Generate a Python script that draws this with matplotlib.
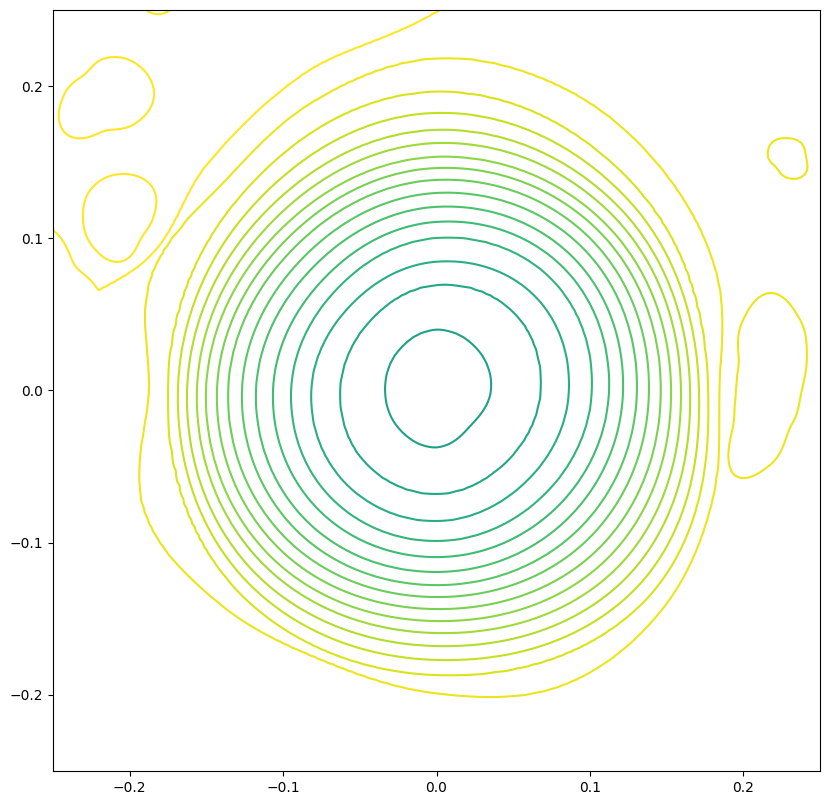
"""
plot.py - contour rings around the origin, viridis line colours.
"""

import numpy as np
import matplotlib
matplotlib.use("Agg")
import matplotlib.pyplot as plt

# ------------------- 1. Ring radii -------------------
# distance from (0, 0) to each ring, data units, inner -> outer (rings 1..14)
# directions: E, NE, N, NW, W, SW, S, SE
ring_e  = [0.0355, 0.0681, 0.0864, 0.1014, 0.1125, 0.1216, 0.1307, 0.1385, 0.1463, 0.1529, 0.1594, 0.1653, 0.1711, 0.1770]
ring_ne = [0.0380, 0.0720, 0.0892, 0.1048, 0.1156, 0.1248, 0.1337, 0.1415, 0.1489, 0.1553, 0.1626, 0.1692, 0.1769, 0.1860]
ring_n  = [0.0400, 0.0695, 0.0846, 0.1003, 0.1108, 0.1207, 0.1298, 0.1384, 0.1462, 0.1534, 0.1626, 0.1711, 0.1823, 0.1961]
ring_nw = [0.0360, 0.0630, 0.0792, 0.0931, 0.1039, 0.1142, 0.1232, 0.1320, 0.1393, 0.1466, 0.1541, 0.1617, 0.1703, 0.1806]
ring_w  = [0.0336, 0.0629, 0.0818, 0.0948, 0.1066, 0.1177, 0.1268, 0.1359, 0.1431, 0.1503, 0.1561, 0.1626, 0.1685, 0.1750]
ring_sw = [0.0350, 0.0665, 0.0851, 0.0985, 0.1098, 0.1205, 0.1295, 0.1381, 0.1460, 0.1536, 0.1605, 0.1684, 0.1761, 0.1846]
ring_s  = [0.0374, 0.0682, 0.0859, 0.0990, 0.1095, 0.1193, 0.1279, 0.1357, 0.1436, 0.1515, 0.1593, 0.1679, 0.1770, 0.1869]
ring_se = [0.0320, 0.0655, 0.0837, 0.0981, 0.1097, 0.1200, 0.1300, 0.1389, 0.1482, 0.1568, 0.1656, 0.1744, 0.1838, 0.1936]

# ring 15 and the outermost level bend more: 16 directions, every 22.5 deg from E
ring_15    = [0.1842, 0.198, 0.207, 0.2155, 0.2184, 0.2065, 0.195, 0.201,
              0.1875, 0.2065, 0.199, 0.192, 0.199, 0.2105, 0.206, 0.194]
outer_line = [0.42, 0.42, 0.44, 0.34, 0.249, 0.2255, 0.211, 0.2115,
              0.31, 0.40, 0.42, 0.42, 0.42, 0.42, 0.44, 0.42]

# small closed loops: centre and radius along evenly spaced directions from E
loop_centers = [(-0.2161, 0.1941), (-0.2063, 0.1134), (-0.1815, 0.2597),
                (-0.2585, 0.0597), (0.2285, 0.1534), (0.2174, 0.0007)]
loop_radii = [
    [0.032, 0.029, 0.0242, 0.019, 0.0268, 0.036, 0.0235, 0.027],
    [0.0216, 0.0293, 0.0288, 0.0268, 0.0242, 0.0258, 0.0288, 0.0192],
    [0.0125, 0.0125, 0.0125, 0.0125, 0.0125, 0.0125, 0.0125, 0.0125],
    [0.039, 0.032, 0.049, 0.039, 0.026, 0.026, 0.026, 0.03],
    [0.0124, 0.0131, 0.0124, 0.0137, 0.0124, 0.0098, 0.0137, 0.0163],
    [0.0209, 0.0248, 0.034, 0.0503, 0.0634, 0.0477, 0.0288, 0.0232,
     0.0222, 0.0248, 0.034, 0.0608, 0.0497, 0.0307, 0.0242, 0.0209],
]
loop_levels = [16, 16, 16, 16, 15, 15]

levels = np.arange(1, 17)


# ------------------- 2. Build the field -------------------
def radius_at(table, theta):
    # periodic Catmull-Rom through evenly spaced directions, starting east
    table = np.asarray(table, dtype=float)
    n = len(table)
    pos = (theta % (2 * np.pi)) / (2 * np.pi) * n
    i = np.floor(pos).astype(int)
    t = pos - i
    p0 = table[(i - 1) % n]
    p1 = table[i % n]
    p2 = table[(i + 1) % n]
    p3 = table[(i + 2) % n]
    return 0.5 * (2 * p1 + (p2 - p0) * t
                  + (2 * p0 - 5 * p1 + 4 * p2 - p3) * t ** 2
                  + (3 * p1 - p0 - 3 * p2 + p3) * t ** 3)


g = np.linspace(-0.3, 0.3, 241)
X, Y = np.meshgrid(g, g)
r = np.hypot(X, Y)
theta = np.arctan2(Y, X)

radii = [np.zeros_like(r)]
for k in range(len(ring_e)):
    table = [ring_e[k], ring_ne[k], ring_n[k], ring_nw[k],
             ring_w[k], ring_sw[k], ring_s[k], ring_se[k]]
    radii.append(radius_at(table, theta))
radii.append(radius_at(ring_15, theta))
R = np.stack(radii)
n_rings = len(radii) - 1

# inside ring 15: linear between neighbouring rings
idx = np.clip((R <= r).sum(axis=0) - 1, 0, n_rings - 1)
lo = np.take_along_axis(R, idx[None], 0)[0]
hi = np.take_along_axis(R, idx[None] + 1, 0)[0]
Z = idx + (r - lo) / (hi - lo)

# outside ring 15: eases towards the outermost level so the slope stays
# close to the ring spacing (keeps ring 15 from picking up grid ripples)
r15 = R[-1]
r16 = radius_at(outer_line, theta)
a = np.clip((r16 - r15) / 0.012, 0.5, 30)
s = (r - r15) / (r16 - r15)
Z_out = n_rings + (1 - np.exp(-a * s)) / (1 - np.exp(-a)) + 0.3 * np.clip(s - 1, 0, None)
Z = np.where(r > r15, Z_out, Z)

for (cx, cy), table, lev in zip(loop_centers, loop_radii, loop_levels):
    dx, dy = X - cx, Y - cy
    d = np.hypot(dx, dy) / radius_at(table, np.arctan2(dy, dx))
    Z = np.minimum(Z, lev + 0.5 * (d - 1))

# ------------------- 3. Plot -------------------
fig = plt.figure(figsize=(8.3, 8.05), dpi=100)
ax = fig.add_axes([53 / 830, 34 / 805, 767 / 830, 761 / 805])

colors = plt.cm.viridis(np.linspace(0.57, 1.0, len(levels)))
ax.contour(X, Y, Z, levels=levels, colors=colors, linewidths=1.5)

ax.set_xlim(-0.25, 0.25)
ax.set_ylim(-0.25, 0.25)

fig.savefig("out.png", dpi=100)
